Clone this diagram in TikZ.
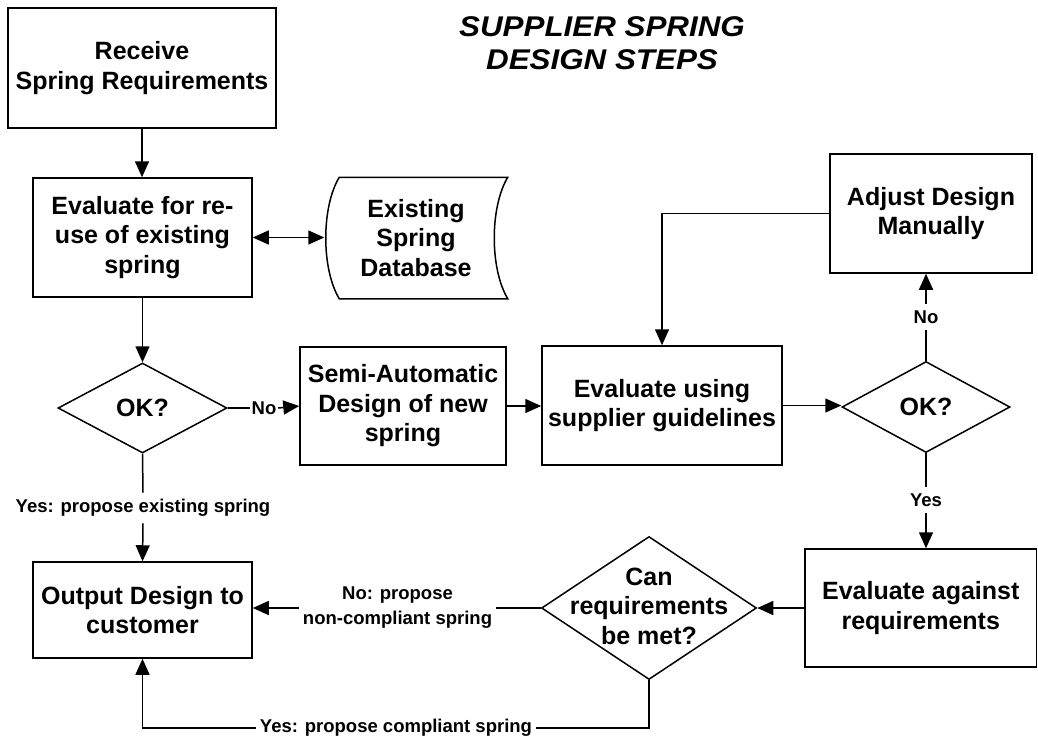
\documentclass[tikz,border=0pt]{standalone}
\usepackage{fontspec}
\newfontfamily\flowfont{Liberation Sans}
\newfontfamily\titlefont{Liberation Sans}[FakeStretch=1.1]
\usetikzlibrary{arrows.meta,shapes.geometric,calc}

\tikzset{
  boxtext/.style={font=\flowfont\bfseries\fontsize{25}{29.5}\selectfont, align=center},
  stepbox/.style={draw, rectangle, boxtext, inner sep=2pt},
  decision/.style={draw, diamond, inner sep=0pt},
  lab/.style={font=\flowfont\bfseries\fontsize{18.5}{25}\selectfont, align=center, inner xsep=3pt, inner ysep=6pt},
  arr/.style={-{Triangle[length=16pt,width=14pt]}},
  dbl/.style={{Triangle[length=16pt,width=14pt]}-{Triangle[length=16pt,width=14pt]}},
}

\begin{document}
\begin{tikzpicture}[x=1pt,y=-1pt,line width=1.5pt]
\useasboundingbox (0,0) rectangle (1038,740);
\fill[white] (0,0) rectangle (1038,740);
\clip (0,0) rectangle (1038,740);

% title
\node[font=\titlefont\bfseries\itshape\fontsize{28.5}{33}\selectfont, align=center] (title) at (602,43.5)
  {SUPPLIER SPRING\\DESIGN STEPS};

% process steps
\node[stepbox, minimum width=268pt, minimum height=120pt] (recv) at (142,68) {Receive\\Spring Requirements};
\node[stepbox, minimum width=219pt, minimum height=119pt] (reuse) at (142.5,237.5) {Evaluate for re-\\use of existing\\spring};
\node[boxtext, minimum width=182pt, minimum height=120pt, inner sep=0pt] (db) at (416,238) {Existing\\Spring\\Database};
\node[stepbox, minimum width=206pt, minimum height=118pt] (semi) at (403,406) {Semi-Automatic\\Design of new\\spring};
\node[stepbox, minimum width=240pt, minimum height=119pt] (use) at (662,405.5) {Evaluate using\\supplier guidelines};
\node[stepbox, minimum width=202pt, minimum height=119pt] (adj) at (931,213.5) {Adjust Design\\Manually};
\node[stepbox, minimum width=231.5pt, minimum height=118pt] (against) at (920.75,608) {Evaluate against\\requirements};
\node[stepbox, minimum width=219pt, minimum height=96pt] (out) at (142.5,610) {Output Design to\\customer};

% stored data outline of the spring database
\draw ($(db.north west)+(15,0)$) -- (db.north east)
  .. controls ($(db.north east)+(-18,30)$) and ($(db.south east)+(-18,-30)$) .. (db.south east)
  -- ($(db.south west)+(15,0)$)
  .. controls ($(db.south west)+(-3,-30)$) and ($(db.north west)+(-3,30)$) .. ($(db.north west)+(15,0)$) -- cycle;

% decisions
\node[decision, minimum width=169pt, minimum height=90pt] (ok1) at (142.5,408) {};
\node[boxtext] (ok1txt) at (ok1) {OK?};
\node[decision, minimum width=168pt, minimum height=91pt] (ok2) at (926,407) {};
\node[boxtext] (ok2txt) at (ok2) {OK?};
\node[decision, minimum width=215pt, minimum height=143pt] (can) at (649,608) {};
\node[boxtext] (cantxt) at (649,606) {Can\\requirements\\be met?};

% connector labels
\node[lab, inner xsep=1pt] (lno1) at (264,408) {No};
\node[lab] (lyes1) at (143,508) {Yes: propose existing spring};
\node[lab] (lno2) at (926,317) {No};
\node[lab] (lyes2) at (926,500) {Yes};
\node[lab] (lnc) at (397.5,608) {No: propose\\non-compliant spring};
\node[lab, inner ysep=1pt] (lyc) at (396,728) {Yes: propose compliant spring};

% connectors
\draw[arr] (recv.south) -- (recv.south |- reuse.north);
\draw[dbl] (reuse.east) -- (reuse.east -| db.west);
\draw[arr] (reuse.south) -- (ok1.north);
\draw (ok1.east) -- (lno1.west);
\draw[arr] (lno1.east) -- (semi.west);
\draw[arr] (semi.east) -- (semi.east -| use.west);
\draw[arr] (use.east) -- (use.east -| ok2.west);
\draw (ok2.north) -- (lno2.south);
\draw[arr] (lno2.north) -- (lno2.north |- adj.south);
\draw[arr] (adj.west) -| (use.north);
\draw (ok2.south) -- (lyes2.north);
\draw[arr] (lyes2.south) -- (lyes2.south |- against.north);
\draw[arr] (against.west) -- (can.east);
\draw (can.west) -- (lnc.east);
\draw[arr] (lnc.west) -- (lnc.west -| out.east);
\draw (can.south) |- (lyc.east);
\draw[arr] (lyc.west) -| (out.south);
\draw (ok1.south) -- (lyes1.north);
\draw[arr] (lyes1.south) -- (out.north);
\end{tikzpicture}
\end{document}
